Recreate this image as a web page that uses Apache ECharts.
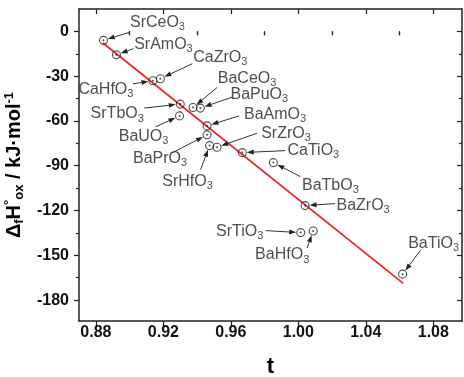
<!DOCTYPE html>
<html>
<head>
<meta charset="utf-8">
<script src="https://cdn.jsdelivr.net/npm/echarts@6/dist/echarts.min.js"></script>
<style>
  html, body { margin: 0; padding: 0; background: #fff; }
  #main { width: 464px; height: 377px; }
</style>
</head>
<body>
<div id="main"></div>
<script>
// compounds, tolerance factor t and formation enthalpy
var names = ['SrCeO3', 'SrAmO3', 'CaZrO3', 'CaHfO3', 'SrTbO3', 'BaUO3', 'BaPrO3', 'SrHfO3', 'BaCeO3',
	'BaPuO3', 'BaAmO3', 'SrZrO3', 'CaTiO3', 'BaTbO3', 'BaZrO3', 'SrTiO3', 'BaHfO3', 'BaTiO3'];
var tVals = [0.8845, 0.8922, 0.9182, 0.9138, 0.9300, 0.9296, 0.9459, 0.9474, 0.9376,
	0.9419, 0.9459, 0.9518, 0.9668, 0.9852, 1.0040, 1.0014, 1.0088, 1.0618];
var hVals = [-6.0, -15.6, -31.7, -33.1, -48.7, -56.6, -69.3, -76.5, -51.0,
	-51.4, -63.3, -77.6, -81.2, -87.9, -116.7, -134.8, -133.7, -162.6];

// linear fit
var fitT = [0.8842, 1.0622];
var fitH = [-7.8, -168.8];

// ticks
var xMajor = [0.88, 0.92, 0.96, 1.00, 1.04, 1.08];
var xMinor = [0.90, 0.94, 0.98, 1.02, 1.06];
var yMajor = [0, -30, -60, -90, -120, -150, -180];
var yMinor = [-15, -45, -75, -105, -135, -165];

// label centre and arrow tail, pixel offsets from the point
var labelOff = [[54, -18], [47, -10], [60, -21], [-47, 9], [-63, 10], [-36, 21], [-47, 24], [-22, 36], [54, -29],
	[59, -14], [68, -11], [69, -14], [71, -2], [57, 23], [58, 0], [-61, -1], [-31, 24], [31, -31]];
var arrowTail = [[26, -8], [17, -6], [32, -15], [-20, 3], [-36, 4], [-24, 11], [-35, 18], [-9, 24], [24, -20],
	[32, -11], [32, -10], [40, -14], [43, -2], [27, 14], [30, -2], [-35, -2], [-6, 17], [18, -24]];

var font = 'Liberation Sans, Arial, sans-serif';
var chart = echarts.init(document.getElementById('main'));

var pts = [];
for (var i = 0; i < names.length; i++) {
	pts.push({
		value: [tVals[i], hVals[i]],
		name: names[i],
		label: { offset: labelOff[i] }
	});
}
var fitData = [[fitT[0], fitH[0]], [fitT[1], fitH[1]]];
var dotData = tVals.map(function (t, i) { return [t, hVals[i]]; });

function axX(extra) {
	var a = {
		type: 'value', min: 0.87, max: 1.097, gridIndex: 0,
		axisLine: { show: false }, splitLine: { show: false },
		axisLabel: { show: false }, axisTick: { show: false }
	};
	return Object.assign(a, extra);
}
function axY(extra) {
	var a = {
		type: 'value', min: -194, max: 15, gridIndex: 0,
		axisLine: { show: false }, splitLine: { show: false },
		axisLabel: { show: false }, axisTick: { show: false }
	};
	return Object.assign(a, extra);
}

var option = {
	animation: false,
	grid: { left: 79, right: 2, top: 9, bottom: 56, containLabel: false, outerBoundsMode: 'none' },
	xAxis: [
		axX({
			position: 'bottom',
			name: 't', nameLocation: 'middle', nameGap: 35,
			nameTextStyle: { fontFamily: font, fontWeight: 'bold', fontSize: 22, color: '#000' },
			axisLine: { show: true, onZero: false, lineStyle: { color: '#222', width: 1.5 } },
			axisTick: { show: true, length: 5, customValues: xMajor, lineStyle: { color: '#222', width: 1.2 } },
			axisLabel: { show: true, customValues: xMajor, margin: 4, fontFamily: font, fontWeight: 'bold', fontSize: 16, color: '#111',
				formatter: function (v) { return v.toFixed(2); } }
		}),
		axX({ position: 'bottom', axisTick: { show: true, length: 4, customValues: xMinor, lineStyle: { color: '#222', width: 1.2 } } }),
		axX({
			position: 'top',
			axisLine: { show: true, onZero: false, lineStyle: { color: '#222', width: 1.5 } },
			axisTick: { show: true, inside: true, length: 5, customValues: xMajor, lineStyle: { color: '#222', width: 1.2 } }
		}),
		axX({ position: 'top', axisTick: { show: true, inside: true, length: 3, customValues: xMinor, lineStyle: { color: '#222', width: 1.2 } } })
	],
	yAxis: [
		axY({
			position: 'left',
			name: '{t|Δ}{s|f}{t|H}{u|°}{s|ox}{t| / kJ·mol}{u|-1}', nameLocation: 'middle', nameGap: 41,
			nameTextStyle: {
				fontFamily: font, fontWeight: 'bold', color: '#000',
				rich: {
					t: { fontFamily: font, fontWeight: 'bold', fontSize: 20, color: '#000' },
					s: { fontFamily: font, fontWeight: 'bold', fontSize: 13, color: '#000', padding: [10, 0, 0, 0] },
					u: { fontFamily: font, fontWeight: 'bold', fontSize: 13, color: '#000', padding: [0, 0, 10, 0] }
				}
			},
			axisLine: { show: true, onZero: false, lineStyle: { color: '#222', width: 1.5 } },
			axisTick: { show: true, length: 5, customValues: yMajor, lineStyle: { color: '#222', width: 1.2 } },
			axisLabel: { show: true, customValues: yMajor, margin: 10, fontFamily: font, fontWeight: 'bold', fontSize: 16, color: '#111' }
		}),
		axY({ position: 'left', axisTick: { show: true, length: 3, customValues: yMinor, lineStyle: { color: '#222', width: 1.2 } } }),
		axY({
			position: 'right',
			axisLine: { show: true, onZero: false, lineStyle: { color: '#222', width: 1.5 } },
			axisTick: { show: true, inside: true, length: 5, customValues: yMajor, lineStyle: { color: '#222', width: 1.2 } }
		}),
		axY({ position: 'right', axisTick: { show: true, inside: true, length: 3, customValues: yMinor, lineStyle: { color: '#222', width: 1.2 } } })
	],
	series: [
		{
			name: 'fit', type: 'line', data: fitData, symbol: 'none', z: 1,
			lineStyle: { color: '#e8282c', width: 1.8 }
		},
		{
			name: 'data', type: 'scatter', data: pts, symbol: 'circle', symbolSize: 8, z: 3,
			itemStyle: { color: 'rgba(0,0,0,0)', borderColor: '#222', borderWidth: 1.1 },
			label: {
				show: true, position: 'inside', align: 'center', verticalAlign: 'middle',
				fontFamily: font, fontSize: 16, color: '#222',
				formatter: function (p) { return '{m|' + p.name.slice(0, -1) + '}{s|3}'; },
				rich: {
					m: { fontFamily: font, fontSize: 16, color: '#222' },
					s: { fontFamily: font, fontSize: 11, color: '#222', padding: [9, 0, 0, 0] }
				}
			},
			emphasis: { disabled: true }
		},
		{
			name: 'dot', type: 'scatter', data: dotData,
			symbol: 'circle', symbolSize: 2, z: 4, silent: true,
			itemStyle: { color: '#222' }
		}
	]
};
chart.setOption(option);

// arrows from label to point
var g = [];
for (var j = 0; j < names.length; j++) {
	var p = chart.convertToPixel({ seriesIndex: 1 }, [tVals[j], hVals[j]]);
	var tx = p[0] + arrowTail[j][0], ty = p[1] + arrowTail[j][1];
	var dx = tx - p[0], dy = ty - p[1];
	var len = Math.sqrt(dx * dx + dy * dy);
	var ux = dx / len, uy = dy / len;
	var tipX = p[0] + ux * 4.5, tipY = p[1] + uy * 4.5;
	var bx = tipX + ux * 7, by = tipY + uy * 7;
	g.push({
		type: 'line', silent: true, z: 5,
		shape: { x1: tx, y1: ty, x2: bx, y2: by },
		style: { stroke: '#333', lineWidth: 1 }
	});
	g.push({
		type: 'polygon', silent: true, z: 5,
		shape: { points: [[tipX, tipY], [bx - uy * 2.5, by + ux * 2.5], [bx + uy * 2.5, by - ux * 2.5]] },
		style: { fill: '#222' }
	});
}
chart.setOption({ graphic: g });
</script>
</body>
</html>
